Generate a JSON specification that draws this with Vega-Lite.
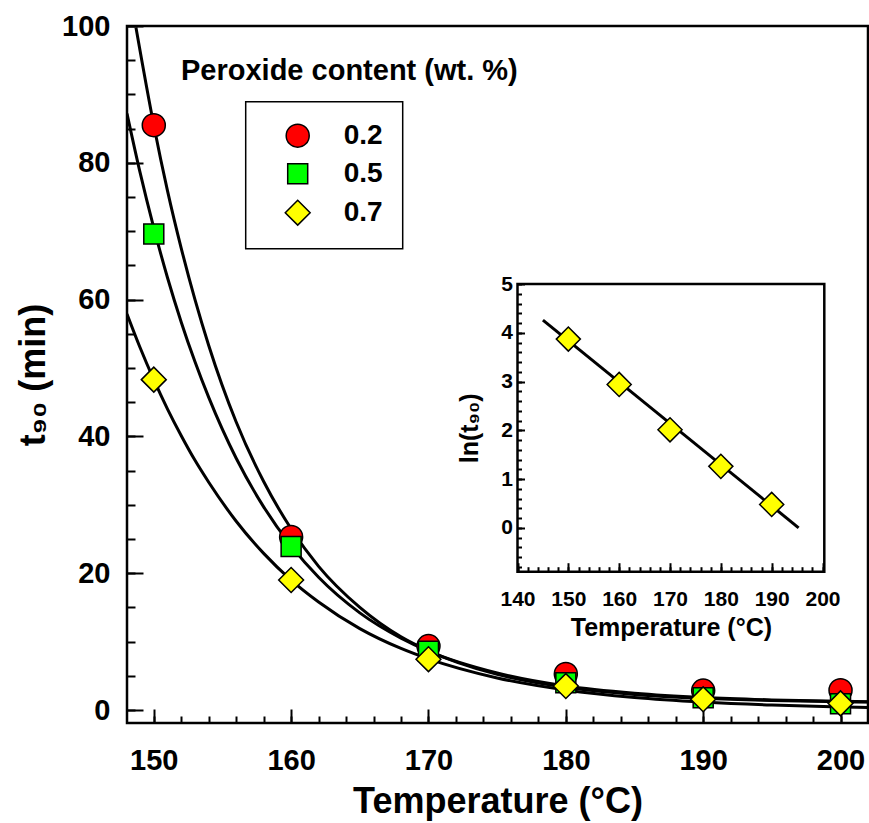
{
  "$schema": "https://vega.github.io/schema/vega-lite/v6.json",
  "width": 741,
  "height": 697,
  "autosize": {"type": "none"},
  "padding": {"left": 127, "top": 26, "right": 1, "bottom": 100},
  "background": "white",
  "title": {
    "text": "Peroxide content (wt. %)",
    "anchor": "start",
    "frame": "group",
    "orient": "top",
    "offset": -97,
    "dx": 54,
    "font": "Liberation Sans",
    "fontSize": 29,
    "fontWeight": "bold",
    "color": "black",
    "baseline": "alphabetic"
  },
  "config": {
    "view": {"stroke": "black", "strokeWidth": 2.5},
    "font": "Liberation Sans",
    "axis": {
      "domain": false,
      "tickColor": "black",
      "labelColor": "black",
      "titleColor": "black",
      "labelFont": "Liberation Sans",
      "titleFont": "Liberation Sans",
      "labelFontWeight": "bold",
      "titleFontWeight": "bold",
      "grid": false,
      "labelOverlap": false,
      "labelFlush": false,
      "labelBound": false,
      "tickWidth": 2
    },
    "legend": {
      "padding": 20,
      "strokeColor": "black",
      "strokeWidth": 1.5,
      "labelFont": "Liberation Sans",
      "labelFontSize": 28,
      "labelFontWeight": "bold",
      "labelColor": "black",
      "labelOffset": 32,
      "symbolOffset": 18,
      "rowPadding": 9,
      "symbolStrokeColor": "black",
      "symbolStrokeWidth": 1.5,
      "symbolOpacity": 1
    }
  },
  "datasets": {
    "curves": [
      {"s": "0.2", "T": 148.7, "v": 99.8}, {"s": "0.2", "T": 150, "v": 85.5}, {"s": "0.2", "T": 151, "v": 75.9},
      {"s": "0.2", "T": 152, "v": 67.5}, {"s": "0.2", "T": 153, "v": 60.0}, {"s": "0.2", "T": 154, "v": 53.3},
      {"s": "0.2", "T": 156, "v": 42.1}, {"s": "0.2", "T": 158, "v": 33.4}, {"s": "0.2", "T": 160, "v": 26.5},
      {"s": "0.2", "T": 162, "v": 21.0}, {"s": "0.2", "T": 165, "v": 15.0}, {"s": "0.2", "T": 168, "v": 10.7},
      {"s": "0.2", "T": 170, "v": 8.66}, {"s": "0.2", "T": 175, "v": 5.21}, {"s": "0.2", "T": 180, "v": 3.31},
      {"s": "0.2", "T": 185, "v": 2.27}, {"s": "0.2", "T": 190, "v": 1.70}, {"s": "0.2", "T": 195, "v": 1.38},
      {"s": "0.2", "T": 200, "v": 1.21}, {"s": "0.2", "T": 202, "v": 1.16},
      {"s": "0.5", "T": 148.05, "v": 87.2}, {"s": "0.5", "T": 149, "v": 78.6}, {"s": "0.5", "T": 150, "v": 70.5},
      {"s": "0.5", "T": 151, "v": 63.2}, {"s": "0.5", "T": 152, "v": 56.7}, {"s": "0.5", "T": 153, "v": 50.9},
      {"s": "0.5", "T": 154, "v": 45.7}, {"s": "0.5", "T": 156, "v": 36.8}, {"s": "0.5", "T": 158, "v": 29.7},
      {"s": "0.5", "T": 160, "v": 24.0}, {"s": "0.5", "T": 162, "v": 19.4}, {"s": "0.5", "T": 165, "v": 14.2},
      {"s": "0.5", "T": 168, "v": 10.5}, {"s": "0.5", "T": 170, "v": 8.6}, {"s": "0.5", "T": 175, "v": 5.4},
      {"s": "0.5", "T": 180, "v": 3.5}, {"s": "0.5", "T": 185, "v": 2.45}, {"s": "0.5", "T": 190, "v": 1.83},
      {"s": "0.5", "T": 195, "v": 1.48}, {"s": "0.5", "T": 200, "v": 1.28}, {"s": "0.5", "T": 202, "v": 1.22},
      {"s": "0.7", "T": 148.05, "v": 57.9}, {"s": "0.7", "T": 149, "v": 53.0}, {"s": "0.7", "T": 150, "v": 48.3},
      {"s": "0.7", "T": 151, "v": 44.0}, {"s": "0.7", "T": 152, "v": 40.1}, {"s": "0.7", "T": 153, "v": 36.5},
      {"s": "0.7", "T": 154, "v": 33.3}, {"s": "0.7", "T": 156, "v": 27.6}, {"s": "0.7", "T": 158, "v": 22.9},
      {"s": "0.7", "T": 160, "v": 19.0}, {"s": "0.7", "T": 162, "v": 15.8}, {"s": "0.7", "T": 165, "v": 11.9},
      {"s": "0.7", "T": 168, "v": 9.0}, {"s": "0.7", "T": 170, "v": 7.48}, {"s": "0.7", "T": 175, "v": 4.69},
      {"s": "0.7", "T": 180, "v": 2.94}, {"s": "0.7", "T": 185, "v": 1.84}, {"s": "0.7", "T": 190, "v": 1.16},
      {"s": "0.7", "T": 195, "v": 0.72}, {"s": "0.7", "T": 200, "v": 0.45}, {"s": "0.7", "T": 202, "v": 0.38}
    ],
    "points": [
      {"s": "0.2", "T": 150, "v": 85.5}, {"s": "0.2", "T": 160, "v": 25.3}, {"s": "0.2", "T": 170, "v": 9.35},
      {"s": "0.2", "T": 180, "v": 5.27}, {"s": "0.2", "T": 190, "v": 2.84}, {"s": "0.2", "T": 200, "v": 2.9},
      {"s": "0.5", "T": 150, "v": 69.6}, {"s": "0.5", "T": 160, "v": 23.9}, {"s": "0.5", "T": 170, "v": 8.6},
      {"s": "0.5", "T": 180, "v": 4.0}, {"s": "0.5", "T": 190, "v": 1.8}, {"s": "0.5", "T": 200, "v": 0.9},
      {"s": "0.7", "T": 150, "v": 48.3}, {"s": "0.7", "T": 160, "v": 19.0}, {"s": "0.7", "T": 170, "v": 7.43},
      {"s": "0.7", "T": 180, "v": 3.5}, {"s": "0.7", "T": 190, "v": 1.56}, {"s": "0.7", "T": 200, "v": 0.97}
    ],
    "insetFrame": [{"T": 140, "T2": 200.35, "v": -0.9, "v2": 5}],
    "insetLine": [{"T": 145, "v": 4.26}, {"T": 195.3, "v": 0}],
    "insetPoints": [
      {"T": 150, "v": 3.87}, {"T": 160, "v": 2.94}, {"T": 170, "v": 2.01}, {"T": 180, "v": 1.26}, {"T": 190, "v": 0.48}
    ]
  },
  "layer": [
    {
      "resolve": {"axis": {"x": "independent", "y": "independent"}},
      "layer": [
        {
          "data": {"name": "curves"},
          "mark": {"type": "line", "interpolate": "monotone", "color": "black", "strokeWidth": 3, "clip": true},
          "encoding": {
            "x": {
              "field": "T", "type": "quantitative",
              "scale": {"domain": [148.05, 202], "nice": false, "zero": false},
              "axis": {
                "orient": "bottom", "offset": -14, "tickSize": 14, "domain": false,
                "values": [150,160,170,180,190,200],
                "format": "d",
                "labelOverlap": false,
                "labelFontSize": 29,
                "labelPadding": 23,
                "title": "Temperature (°C)",
                "titleFontSize": 36,
                "titlePadding": 9
              }
            },
            "y": {
              "field": "v", "type": "quantitative",
              "scale": {"domain": [-1.9, 100], "nice": false, "zero": false},
              "axis": {
                "orient": "left", "offset": -16, "tickSize": 16, "domain": false,
                "values": [0,20,40,60,80,100],
                "format": "d",
                "labelOverlap": false,
                "labelFontSize": 29,
                "labelPadding": 17,
                "title": "t₉₀ (min)",
                "titleFontSize": 36,
                "titlePadding": 9
              }
            },
            "detail": {"field": "s", "type": "nominal"}
          }
        },
        {
          "data": {"name": "points"},
          "mark": {"type": "point", "filled": true, "strokeWidth": 1.5, "opacity": 1},
          "encoding": {
            "x": {
              "field": "T", "type": "quantitative",
              "scale": {"domain": [148.05, 202], "nice": false, "zero": false},
              "axis": {
                "orient": "bottom", "offset": -7, "tickSize": 7, "domain": false,
                "values": [150,152,154,156,158,160,162,164,166,168,170,172,174,176,178,180,182,184,186,188,190,192,194,196,198,200,202],
                "labels": false, "title": null
              }
            },
            "y": {
              "field": "v", "type": "quantitative",
              "scale": {"domain": [-1.9, 100], "nice": false, "zero": false},
              "axis": {
                "orient": "left", "offset": -8, "tickSize": 8, "domain": false,
                "values": [0,5,10,15,20,25,30,35,40,45,50,55,60,65,70,75,80,85,90,95,100],
                "labels": false, "title": null
              }
            },
            "shape": {
              "field": "s", "type": "nominal",
              "scale": {"domain": ["0.2", "0.5", "0.7"], "range": ["circle", "square", "diamond"]},
              "legend": {"title": null, "orient": "none", "legendX": 118.7, "legendY": 75.7, "symbolStrokeWidth": 1.5}
            },
            "fill": {
              "field": "s", "type": "nominal",
              "scale": {"domain": ["0.2", "0.5", "0.7"], "range": ["#ff0000", "#00ff00", "#ffff00"]},
              "legend": {"title": null, "orient": "none", "legendX": 118.7, "legendY": 75.7, "symbolStrokeWidth": 1.5}
            },
            "stroke": {
              "field": "s", "type": "nominal",
              "scale": {"domain": ["0.2", "0.5", "0.7"], "range": ["#000000", "#000000", "#000000"]},
              "legend": {"title": null, "orient": "none", "legendX": 118.7, "legendY": 75.7, "symbolStrokeWidth": 1.5}
            },
            "size": {
              "field": "s", "type": "nominal",
              "scale": {"type": "ordinal", "domain": ["0.2", "0.5", "0.7"], "range": [530, 400, 620]},
              "legend": {"title": null, "orient": "none", "legendX": 118.7, "legendY": 75.7, "symbolStrokeWidth": 1.5}
            }
          }
        }
      ]
    },
    {
      "resolve": {"axis": {"x": "independent", "y": "independent"}},
      "layer": [
        {
          "data": {"name": "insetFrame"},
          "mark": {"type": "rect", "fill": "transparent", "stroke": "black", "strokeWidth": 2.5},
          "encoding": {
            "x": {
              "field": "T", "type": "quantitative",
              "scale": {"domain": [140, 200.35], "range": [390.5, 697.3], "nice": false, "zero": false},
              "axis": {
                "orient": "bottom", "offset": -160.3, "tickSize": 9, "domain": false,
                "values": [140,150,160,170,180,190,200],
                "format": "d",
                "labelOverlap": false,
                "labelFontSize": 21,
                "labelPadding": 17,
                "title": "Temperature (°C)",
                "titleFontSize": 25,
                "titlePadding": 6
              }
            },
            "y": {
              "field": "v", "type": "quantitative",
              "scale": {"domain": [-0.9, 5], "range": [545.7, 258], "nice": false, "zero": false},
              "axis": {
                "orient": "left", "offset": -397.5, "tickSize": 7, "domain": false,
                "values": [0,1,2,3,4,5],
                "format": "d",
                "labelOverlap": false,
                "labelFontSize": 21,
                "labelPadding": 5,
                "title": "ln(t₉₀)",
                "titleFontSize": 25,
                "titlePadding": 18
              }
            },
            "x2": {"field": "T2"},
            "y2": {"field": "v2"}
          }
        },
        {
          "data": {"name": "insetLine"},
          "mark": {"type": "line", "color": "black", "strokeWidth": 3},
          "encoding": {
            "x": {
              "field": "T", "type": "quantitative",
              "scale": {"domain": [140, 200.35], "range": [390.5, 697.3], "nice": false, "zero": false},
              "axis": {
                "orient": "bottom", "offset": -156.3, "tickSize": 5, "domain": false,
                "values": [140,142,144,146,148,150,152,154,156,158,160,162,164,166,168,170,172,174,176,178,180,182,184,186,188,190,192,194,196,198,200],
                "labels": false, "title": null
              }
            },
            "y": {
              "field": "v", "type": "quantitative",
              "scale": {"domain": [-0.9, 5], "range": [545.7, 258], "nice": false, "zero": false},
              "axis": {
                "orient": "left", "offset": -394.5, "tickSize": 4, "domain": false,
                "values": [-0.8,-0.6,-0.4,-0.2,0,0.2,0.4,0.6,0.8,1,1.2,1.4,1.6,1.8,2,2.2,2.4,2.6,2.8,3,3.2,3.4,3.6,3.8,4,4.2,4.4,4.6,4.8,5],
                "labels": false, "title": null
              }
            }
          }
        },
        {
          "data": {"name": "insetPoints"},
          "mark": {"type": "point", "shape": "diamond", "filled": true, "fill": "#ffff00", "stroke": "black", "strokeWidth": 1.5, "size": 580, "opacity": 1},
          "encoding": {
            "x": {
              "field": "T", "type": "quantitative",
              "scale": {"domain": [140, 200.35], "range": [390.5, 697.3], "nice": false, "zero": false},
              "axis": null
            },
            "y": {
              "field": "v", "type": "quantitative",
              "scale": {"domain": [-0.9, 5], "range": [545.7, 258], "nice": false, "zero": false},
              "axis": null
            }
          }
        }
      ]
    }
  ],
  "resolve": {
    "scale": {"x": "independent", "y": "independent"},
    "axis": {"x": "independent", "y": "independent"}
  }
}
